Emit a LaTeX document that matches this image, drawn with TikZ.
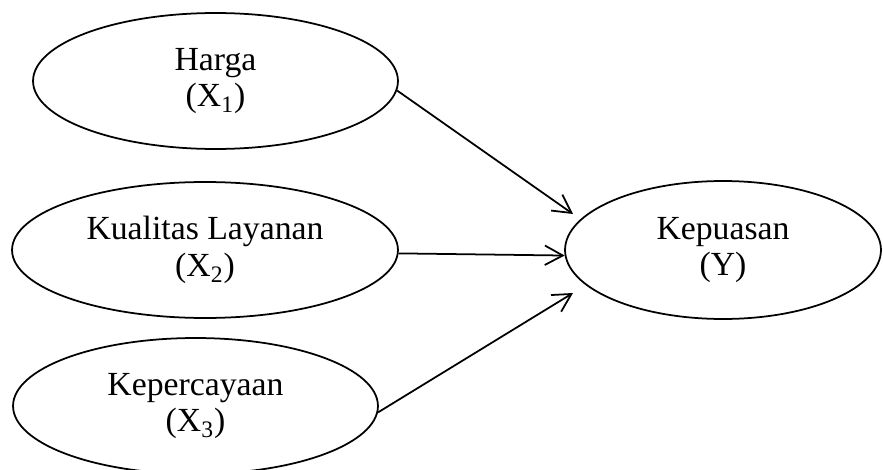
\documentclass[tikz,border=0pt]{standalone}
\usepackage{fontspec}
\setmainfont{Liberation Serif}
\usetikzlibrary{shapes.geometric,arrows.meta}

\begin{document}
\begin{tikzpicture}[x=0.02cm, y=-0.02cm,
    var/.style={draw, ellipse, line width=1pt, inner sep=0pt,
        minimum height=2.72cm, align=center,
        font=\fontsize{19.2}{21}\selectfont},
    pengaruh/.style={-{Straight Barb[length=0.36cm,width=0.39cm]}, line width=1pt}]
            \useasboundingbox (0,0) rectangle (883,470);
            \clip (0,0) rectangle (883,470);

            \node[var, minimum width=7.3cm] (harga) at (215.5,81) {Harga\\(X\textsubscript{1})};
            \node[var, minimum width=7.72cm] (kualitas) at (205,250) {Kualitas Layanan\\(X\textsubscript{2})};
            \node[var, minimum width=7.3cm] (kepercayaan) at (195.5,406) {Kepercayaan\\(X\textsubscript{3})};
            \node[var, minimum width=6.32cm, minimum height=2.76cm] (kepuasan) at (723,250) {Kepuasan\\(Y)};

            \coordinate (ujung1) at (573,214);
            \coordinate (ujung3) at (573,293);

            \draw[pengaruh] (harga.-3) -- (ujung1);
            \draw[pengaruh] (kualitas.-1) -- (kepuasan.182);
            \draw[pengaruh] (kepercayaan.-2) -- (ujung3);
        \end{tikzpicture}
\end{document}
